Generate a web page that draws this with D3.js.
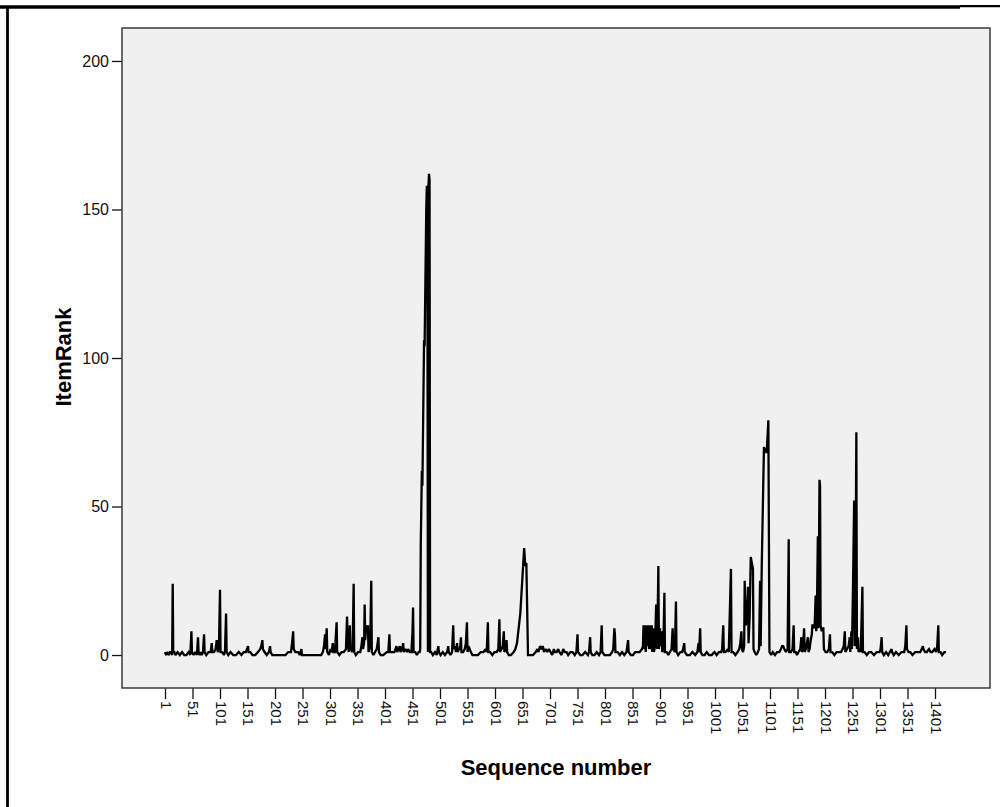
<!DOCTYPE html>
<html>
<head>
<meta charset="utf-8">
<script src="https://cdn.jsdelivr.net/npm/d3@7"></script>
<style>
  body { margin: 0; background: #fff; }
  svg { display: block; font-family: "Liberation Sans", Arial, sans-serif; }
</style>
</head>
<body>
<div id="chart"></div>
<script>
// ItemRank by sequence number as [sequence, rank]
const partA = [
  [1,1],[3,0],[5,1],[8,0],[10,1],[12,1],[14,0],[15,24],[16,1],[18,1],[20,0],[24,1],[28,0],[32,1],[36,0],[40,0],
  [44,1],[47,0],[49,8],[50,1],[53,0],[56,1],[59,0],[61,6],[62,1],[64,0],[66,1],[68,0],[70,1],[72,7],[73,1],[76,0],
  [80,1],[84,1],[86,4],[87,1],[90,1],[93,2],[95,5],[97,1],[99,2],[101,22],[102,1],[105,1],[108,0],[110,1],[112,14],
  [113,1],[116,0],[120,1],[125,0],[130,0],[135,1],[140,0],[144,1],[148,1],[150,2],[152,3],[153,1],[156,1],[160,0],
  [165,0],[170,1],[174,2],[176,3],[178,5],[179,2],[182,1],[186,0],[190,1],[192,3],[193,1],[196,0],[200,0],[210,0],
  [220,0],[225,1],[230,1],[232,4],[234,8],[235,2],[238,1],[243,1],[246,0],[249,2],[250,0],[255,0],[265,0],[275,0],
  [285,0],[288,1],[290,3],[292,7],[293,2],[295,9],[296,1],[299,0],[302,2],[304,1],[306,4],[307,1],[310,1],[313,11],
  [314,1],[318,0],[322,1],[326,1],[330,2],[332,13],[333,5],[335,1],[337,10],[338,2],[342,1],[344,24],[345,1],[348,0],
  [352,1],[356,1],[358,3],[360,6],[361,2],[363,4],[364,17],[365,5],[367,10],[369,8],[370,10],[371,1],[374,3],[376,25],
  [377,1],[380,0],[383,1],[386,2],[389,6],[390,1],[393,0],[398,0]
];
const partB = [
  [404,1],[407,1],[409,7],[410,1],[414,1],[418,1],[422,3],[423,1],[426,2],[428,3],[429,1],[432,2],[434,4],[435,1],
  [438,2],[441,1],[443,2],[446,1],[449,1],[451,8],[452,16],[453,1],[456,1],[459,0],[462,1],[464,1],[465,2],[466,37],
  [468,62],[469,57],[472,106],[473,104],[476,150],[477,158],[478,157],[479,1],[480,158],[481,162],[482,160],[483,1],
  [485,1],[488,0],[492,1],[495,0],[498,3],[499,1],[502,0],[506,1],[510,0],[514,1],[516,3],[517,1],[520,0],[523,1],
  [525,10],[526,2],[528,3],[530,1],[532,4],[533,1],[536,2],[538,3],[539,6],[540,1],[543,1],[546,2],[548,4],[550,11],
  [551,1],[553,3],[555,2],[557,1],[560,0],[565,0],[570,0],[575,1],[580,1],[584,2],[586,1],[588,11],[589,1],[592,1],
  [596,0],[600,1],[604,1],[607,2],[609,12],[610,1],[613,2],[615,3],[617,8],[618,1],[620,2],[622,5],[623,1],[626,0],
  [630,0],[635,1],[638,2],[641,4],[647,14],[654,36],[656,30],[658,31],[661,0],[665,0],[670,0],[675,1],
  [678,2],[680,1],[683,3],[685,2],[688,3],[690,1],[693,2],[696,1],[699,2],[702,1],[705,0],[708,2],[710,1],[713,1],
  [716,2],[718,1],[722,0],[725,2],[728,1],[731,1],[734,0],[738,1],[742,1],[746,0],[749,1],[751,7],[752,1],[756,0],
  [760,0],[765,1],[770,0],[772,1],[774,6],[775,1],[778,0],[782,0],[786,1],[790,0],[793,1],[795,10],[796,1],[800,0]
];
const partC = [
  [805,0],[810,0],[814,1],[816,2],[818,9],[819,7],[820,1],[824,1],[828,0],[832,1],[836,0],[840,1],[843,5],[844,1],
  [848,0],[852,0],[856,1],[860,1],[864,1],[868,2],[870,3],[871,10],[872,2],[874,10],[875,1],[877,10],[878,3],[880,10],
  [881,2],[883,10],[884,2],[886,10],[887,1],[889,9],[890,1],[892,3],[894,17],[896,2],[898,30],[899,2],[901,9],[902,3],
  [904,8],[905,1],[907,2],[909,21],[910,1],[913,1],[916,0],[919,1],[922,2],[924,9],[925,2],[928,1],[930,18],[931,1],
  [934,0],[938,1],[941,1],[943,2],[945,4],[946,1],[950,0],[955,0],[960,1],[965,0],[969,1],[971,4],[972,1],[974,9],
  [975,1],[978,0],[982,0],[986,1],[990,0],[995,0],[1000,1],[1004,0],[1008,1],[1012,1],[1014,2],[1016,10],[1017,1],
  [1020,1],[1024,2],[1026,1],[1030,29],[1031,1],[1034,1],[1038,0],[1042,1],[1045,2],[1047,4],[1049,8],[1050,2],
  [1052,1],[1054,3],[1055,25],[1057,10],[1059,12],[1061,23],[1062,4],[1064,13],[1066,33],[1068,31],[1070,29],[1071,2],
  [1073,1],[1076,0],[1079,1],[1081,2],[1083,25],[1084,3],[1086,30],[1090,70],[1092,69],[1095,68],[1098,79],[1100,1]
];
const partD = [
  [1103,0],[1106,1],[1110,0],[1114,1],[1118,1],[1121,2],[1123,3],[1125,3],[1127,2],[1130,1],[1133,2],[1135,39],
  [1136,1],[1139,1],[1142,2],[1144,10],[1145,1],[1148,1],[1150,0],[1153,1],[1156,2],[1158,6],[1159,1],[1161,2],
  [1163,9],[1164,1],[1166,2],[1168,4],[1170,6],[1171,1],[1173,2],[1175,5],[1177,7],[1178,10],[1180,10],[1182,9],
  [1184,20],[1185,8],[1186,10],[1188,40],[1189,9],[1191,59],[1192,57],[1193,10],[1195,8],[1196,9],[1198,9],[1199,2],
  [1202,1],[1205,1],[1208,2],[1210,7],[1211,1],[1214,1],[1218,0],[1222,1],[1226,1],[1230,1],[1233,2],[1235,3],
  [1237,8],[1238,1],[1241,2],[1244,3],[1246,6],[1247,1],[1249,8],[1250,2],[1252,24],[1254,52],[1255,3],[1256,5],
  [1258,75],[1259,2],[1261,6],[1262,1],[1264,2],[1266,1],[1269,23],[1270,1],[1273,1],[1277,0],[1281,1],[1285,1],
  [1290,0],[1295,1],[1300,1],[1302,2],[1304,6],[1305,1],[1308,0],[1312,1],[1316,0],[1319,1],[1322,2],[1323,1],
  [1326,0],[1330,1],[1335,0],[1340,1],[1345,1],[1347,3],[1349,10],[1350,2],[1353,1],[1356,1],[1360,0],[1365,1],
  [1370,1],[1374,1],[1377,2],[1379,3],[1380,2],[1383,1],[1386,1],[1390,2],[1393,1],[1396,1],[1400,2],[1403,1],
  [1405,3],[1407,10],[1408,1],[1411,1],[1414,0],[1418,1],[1421,1]
];

const xTicks = [1,51,101,151,201,251,301,351,401,451,501,551,601,651,701,751,801,851,901,951,
  1001,1051,1101,1151,1201,1251,1301,1351,1401];
const yTicks = [0, 50, 100, 150, 200];

const data = partA.concat(partB, partC, partD).map(d => ({ seq: d[0], rank: d[1] }));

const W = 1000, H = 807;
const plot = { left: 122, top: 28, right: 990, bottom: 688 };

const svg = d3.select("#chart").append("svg")
  .attr("width", W)
  .attr("height", H);

// outer frame fragments
svg.append("line").attr("x1", 0).attr("x2", 960).attr("y1", 7).attr("y2", 7)
  .attr("stroke", "#000").attr("stroke-width", 3.5);
svg.append("line").attr("x1", 960).attr("x2", 1000).attr("y1", 6.2).attr("y2", 6.2)
  .attr("stroke", "#000").attr("stroke-width", 2.2);
svg.append("line").attr("x1", 7.5).attr("x2", 7.5).attr("y1", 8).attr("y2", H)
  .attr("stroke", "#000").attr("stroke-width", 2.8);

const x = d3.scaleLinear().domain([-77.2, 1501]).range([plot.left, plot.right]);
const y = d3.scaleLinear().domain([-11.1, 211.1]).range([plot.bottom, plot.top]);

svg.append("rect")
  .attr("x", plot.left).attr("y", plot.top)
  .attr("width", plot.right - plot.left).attr("height", plot.bottom - plot.top)
  .attr("fill", "#f0f0f0");

const xAxis = svg.append("g")
  .attr("transform", `translate(0,${plot.bottom})`)
  .call(d3.axisBottom(x).tickValues(xTicks).tickFormat(d3.format("d")).tickSize(11).tickSizeOuter(0));
xAxis.select(".domain").remove();
xAxis.selectAll("line").attr("stroke", "#111").attr("stroke-width", 1.3);
xAxis.selectAll("text")
  .attr("transform", "rotate(90)")
  .attr("x", 13).attr("y", 0).attr("dy", "0.33em")
  .attr("text-anchor", "start")
  .attr("fill", "#111")
  .style("font-size", "15px");

const yAxis = svg.append("g")
  .attr("transform", `translate(${plot.left},0)`)
  .call(d3.axisLeft(y).tickValues(yTicks).tickFormat(d3.format("d")).tickSize(10).tickPadding(3).tickSizeOuter(0));
yAxis.select(".domain").remove();
yAxis.selectAll("line").attr("stroke", "#111").attr("stroke-width", 1.3);
yAxis.selectAll("text")
  .attr("fill", "#111")
  .style("font-size", "16px");

const line = d3.line()
  .x(d => x(d.seq))
  .y(d => y(d.rank));

svg.append("path")
  .datum(data)
  .attr("d", line)
  .attr("fill", "none")
  .attr("stroke", "#000")
  .attr("stroke-width", 2.3)
  .attr("stroke-linejoin", "miter")
  .attr("stroke-miterlimit", 2);

svg.append("rect")
  .attr("x", plot.left).attr("y", plot.top)
  .attr("width", plot.right - plot.left).attr("height", plot.bottom - plot.top)
  .attr("fill", "none")
  .attr("stroke", "#3a3a3a")
  .attr("stroke-width", 1.5);

svg.append("text")
  .attr("x", (plot.left + plot.right) / 2)
  .attr("y", 775)
  .attr("text-anchor", "middle")
  .attr("font-weight", "bold")
  .style("font-size", "22px")
  .text("Sequence number");

svg.append("text")
  .attr("transform", "translate(71,357) rotate(-90)")
  .attr("text-anchor", "middle")
  .attr("font-weight", "bold")
  .style("font-size", "22px")
  .text("ItemRank");
</script>
</body>
</html>
